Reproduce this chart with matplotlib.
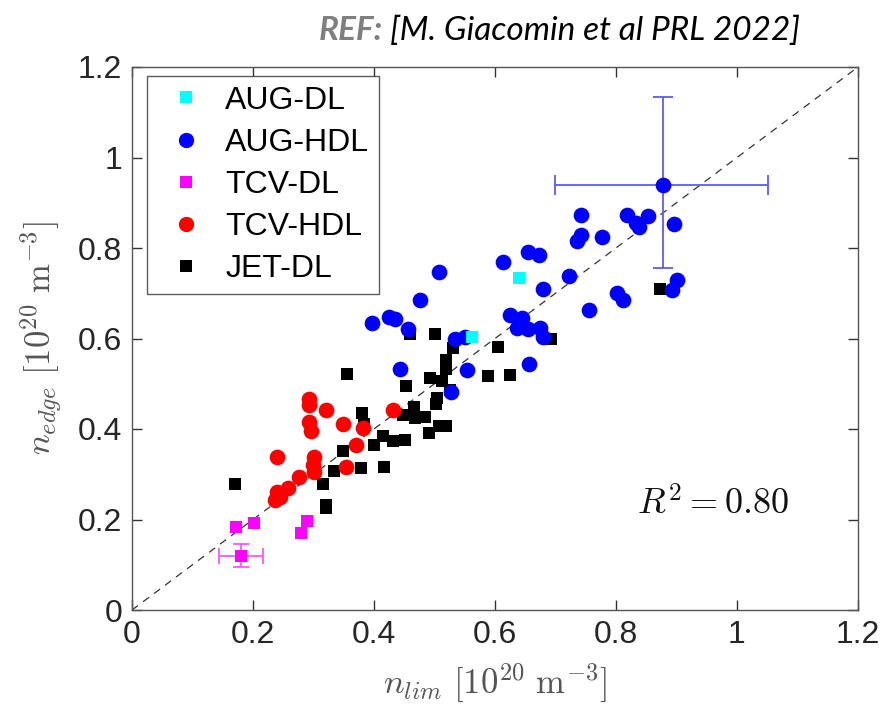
import matplotlib
matplotlib.use("Agg")
import matplotlib.pyplot as plt
from matplotlib.lines import Line2D

plt.rcParams['mathtext.fontset'] = 'cm'
plt.rcParams['font.family'] = ['Liberation Sans', 'DejaVu Sans']

# ---------------- data ----------------
aug_dl_x = [0.640, 0.562]
aug_dl_y = [0.734, 0.603]

aug_hdl_x = [0.396, 0.425, 0.435, 0.457, 0.476, 0.507, 0.443, 0.527, 0.534, 0.550,
             0.553, 0.614, 0.624, 0.644, 0.636, 0.655, 0.674, 0.680, 0.656, 0.655,
             0.673, 0.680, 0.723, 0.742, 0.742, 0.736, 0.777, 0.755, 0.801, 0.811,
             0.818, 0.833, 0.838, 0.853, 0.896, 0.901, 0.893, 0.877]
aug_hdl_y = [0.634, 0.647, 0.643, 0.621, 0.684, 0.746, 0.533, 0.481, 0.600, 0.603,
             0.531, 0.768, 0.652, 0.645, 0.623, 0.620, 0.623, 0.604, 0.544, 0.792,
             0.785, 0.709, 0.738, 0.873, 0.829, 0.816, 0.824, 0.663, 0.700, 0.685,
             0.874, 0.855, 0.846, 0.871, 0.853, 0.729, 0.707, 0.939]

# representative AUG-HDL point with error bars
aug_err_x, aug_err_y = 0.877, 0.939
aug_err_xlo, aug_err_xhi = 0.699, 1.051
aug_err_ylo, aug_err_yhi = 0.756, 1.134

tcv_dl_x = [0.172, 0.202, 0.279, 0.290, 0.180]
tcv_dl_y = [0.184, 0.193, 0.171, 0.197, 0.120]

tcv_err_x, tcv_err_y = 0.180, 0.120
tcv_err_xlo, tcv_err_xhi = 0.144, 0.217
tcv_err_ylo, tcv_err_yhi = 0.096, 0.145

tcv_hdl_x = [0.293, 0.293, 0.320, 0.293, 0.296, 0.348, 0.240, 0.301, 0.299, 0.301,
             0.276, 0.353, 0.370, 0.382, 0.258, 0.239, 0.245, 0.236, 0.431]
tcv_hdl_y = [0.466, 0.453, 0.442, 0.416, 0.396, 0.411, 0.339, 0.339, 0.320, 0.306,
             0.293, 0.317, 0.365, 0.402, 0.269, 0.261, 0.250, 0.243, 0.442]

jet_dl_x = [0.171, 0.315, 0.320, 0.320, 0.334, 0.348, 0.355, 0.378, 0.380, 0.384,
            0.400, 0.415, 0.416, 0.432, 0.448, 0.451, 0.453, 0.459, 0.466, 0.468,
            0.484, 0.491, 0.493, 0.501, 0.502, 0.504, 0.508, 0.512, 0.519, 0.519,
            0.519, 0.526, 0.531, 0.589, 0.605, 0.624, 0.692, 0.872]
jet_dl_y = [0.278, 0.278, 0.232, 0.225, 0.308, 0.352, 0.522, 0.313, 0.435, 0.411,
            0.365, 0.385, 0.317, 0.374, 0.431, 0.376, 0.494, 0.611, 0.448, 0.424,
            0.426, 0.392, 0.512, 0.610, 0.455, 0.468, 0.407, 0.505, 0.407, 0.532,
            0.553, 0.486, 0.578, 0.517, 0.582, 0.519, 0.600, 0.709]

ticks = [0, 0.2, 0.4, 0.6, 0.8, 1.0, 1.2]
tick_labels = ['0', '0.2', '0.4', '0.6', '0.8', '1', '1.2']

# ---------------- figure ----------------
fig = plt.figure(figsize=(8.84, 7.23), dpi=100)
ax = fig.add_axes([132/884, 1-610/723, (858-132)/884, (610-67)/723])

ax.plot([0, 1.2], [0, 1.2], linestyle=(0, (6, 5)), color='#333333', lw=0.9, zorder=1)

sq = 9.3
ci = 11.3
ax.plot(jet_dl_x, jet_dl_y, 's', color='black', ms=sq, mew=0, zorder=3)
ax.plot(tcv_hdl_x, tcv_hdl_y, 'o', color='red', ms=ci, mew=0, zorder=4)
ax.plot(aug_hdl_x, aug_hdl_y, 'o', color='blue', ms=ci, mew=0, zorder=4)
ax.plot(aug_dl_x, aug_dl_y, 's', color='cyan', ms=sq, mew=0, zorder=5)
ax.plot(tcv_dl_x, tcv_dl_y, 's', color='magenta', ms=sq, mew=0, zorder=5)

ax.errorbar([aug_err_x], [aug_err_y],
            xerr=[[aug_err_x - aug_err_xlo], [aug_err_xhi - aug_err_x]],
            yerr=[[aug_err_y - aug_err_ylo], [aug_err_yhi - aug_err_y]],
            fmt='none', ecolor='#5b5bff', elinewidth=1.3, capsize=7, capthick=1.3, zorder=3)
ax.errorbar([tcv_err_x], [tcv_err_y],
            xerr=[[tcv_err_x - tcv_err_xlo], [tcv_err_xhi - tcv_err_x]],
            yerr=[[tcv_err_y - tcv_err_ylo], [tcv_err_yhi - tcv_err_y]],
            fmt='none', ecolor='#ff55ff', elinewidth=1.3, capsize=6, capthick=1.3, zorder=3)

ax.set_xlim(0, 1.2)
ax.set_ylim(0, 1.2)
ax.set_xticks(ticks)
ax.set_xticklabels(tick_labels)
ax.set_yticks(ticks)
ax.set_yticklabels(tick_labels)
ax.tick_params(direction='in', top=True, right=True, length=7, width=1.0,
               labelsize=23, colors='#333333', pad=7)
ax.tick_params(axis='both', labelcolor='#262626')
for s in ax.spines.values():
    s.set_color('#555555')
    s.set_linewidth(1.0)

ax.set_xlabel(r'$n_{lim}\ [10^{20}\ \mathrm{m}^{-3}]$', fontsize=25, color='#555555', labelpad=8)
ax.set_ylabel(r'$n_{edge}\ [10^{20}\ \mathrm{m}^{-3}]$', fontsize=25, color='#555555', labelpad=10)

ax.text(0.80, 0.193, r'$R^2 = 0.80$', transform=ax.transAxes, fontsize=26,
        ha='center', va='center', color='#111111')

handles = [
    Line2D([], [], marker='s', color='cyan', ls='none', ms=8, mew=0),
    Line2D([], [], marker='o', color='blue', ls='none', ms=11, mew=0),
    Line2D([], [], marker='s', color='magenta', ls='none', ms=8, mew=0),
    Line2D([], [], marker='o', color='red', ls='none', ms=11, mew=0),
    Line2D([], [], marker='s', color='black', ls='none', ms=8, mew=0),
]
labels = ['AUG-DL', 'AUG-HDL', 'TCV-DL', 'TCV-HDL', 'JET-DL']
leg = ax.legend(handles, labels, loc='upper left', bbox_to_anchor=(15/726, 1-9/543),
                fontsize=23, frameon=True, fancybox=False, borderpad=0.3,
                labelspacing=0.38, handletextpad=0.3, handlelength=1.85, borderaxespad=0)
leg.get_frame().set_edgecolor('#333333')
leg.get_frame().set_linewidth(1.0)

fig.text(0.433, 0.958, 'REF:', fontsize=24, fontstyle='italic', fontweight='bold',
         color='#7f7f7f', family=['Lato', 'DejaVu Sans'], va='center', ha='right')
fig.text(0.441, 0.958, '[M. Giacomin et al PRL 2022]', fontsize=24, fontstyle='italic',
         color='black', family=['Lato', 'DejaVu Sans'], va='center', ha='left')

fig.savefig('out.png', dpi=100)
